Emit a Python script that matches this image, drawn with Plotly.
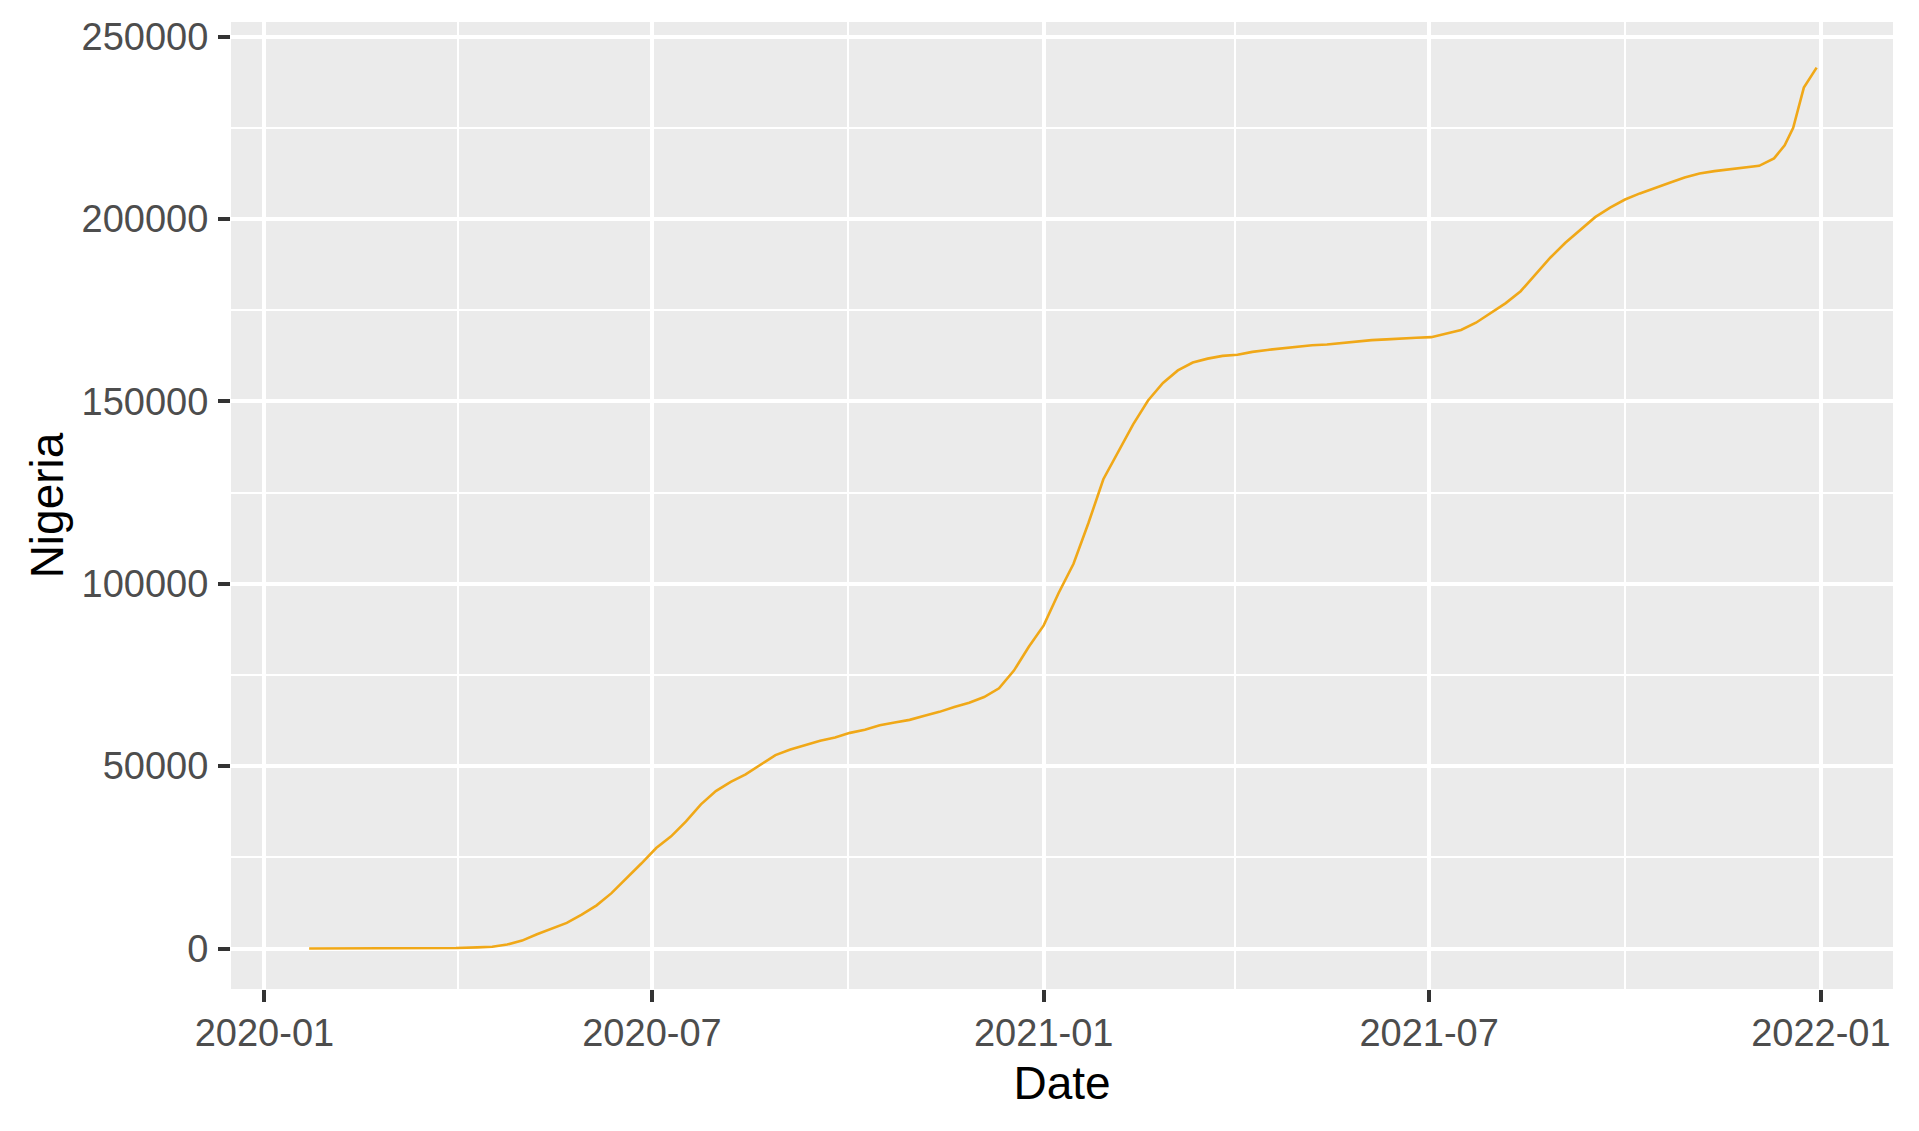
import plotly.graph_objects as go

dates = [
    "2020-01-22", "2020-02-27", "2020-02-28", "2020-03-15", "2020-03-31",
    "2020-04-10", "2020-04-17", "2020-04-24", "2020-05-01", "2020-05-08",
    "2020-05-15", "2020-05-22", "2020-05-29", "2020-06-05", "2020-06-12",
    "2020-06-19", "2020-06-26", "2020-07-03", "2020-07-10", "2020-07-17",
    "2020-07-24", "2020-07-31", "2020-08-07", "2020-08-14", "2020-08-21",
    "2020-08-28", "2020-09-04", "2020-09-11", "2020-09-18", "2020-09-25",
    "2020-10-02", "2020-10-09", "2020-10-16", "2020-10-23", "2020-10-30",
    "2020-11-06", "2020-11-13", "2020-11-20", "2020-11-27", "2020-12-04",
    "2020-12-11", "2020-12-18", "2020-12-25", "2021-01-01", "2021-01-08",
    "2021-01-15", "2021-01-22", "2021-01-29", "2021-02-05", "2021-02-12",
    "2021-02-19", "2021-02-26", "2021-03-05", "2021-03-12", "2021-03-19",
    "2021-03-26", "2021-04-02", "2021-04-09", "2021-04-16", "2021-04-23",
    "2021-04-30", "2021-05-07", "2021-05-14", "2021-05-21", "2021-05-28",
    "2021-06-04", "2021-06-11", "2021-06-18", "2021-06-25", "2021-07-02",
    "2021-07-09", "2021-07-16", "2021-07-23", "2021-07-30", "2021-08-06",
    "2021-08-13", "2021-08-20", "2021-08-27", "2021-09-03", "2021-09-10",
    "2021-09-17", "2021-09-24", "2021-10-01", "2021-10-08", "2021-10-15",
    "2021-10-22", "2021-10-29", "2021-11-05", "2021-11-12", "2021-11-19",
    "2021-11-26", "2021-12-03", "2021-12-10", "2021-12-15", "2021-12-19",
    "2021-12-22", "2021-12-24", "2021-12-30",
]

nigeria_cases = [
    0, 0, 1, 2, 139,
    305, 493, 1095, 2170, 3912,
    5450, 7016, 9302, 11844, 15181,
    19147, 23298, 27564, 30748, 34854,
    39539, 43151, 45687, 47743, 50488,
    53021, 54588, 55829, 56956, 57849,
    59127, 59992, 61194, 61992, 62691,
    63790, 64884, 66228, 67412, 68937,
    71344, 76207, 82747, 88587, 97478,
    105478, 116655, 128674, 136030, 143706,
    150246, 155076, 158506, 160657, 161737,
    162489, 162805, 163581, 164118, 164588,
    165110, 165419, 165616, 166061, 166448,
    166817, 167007, 167281, 167467, 167618,
    168556, 169588, 171576, 174315, 176957,
    180223, 184773, 189457, 193493, 197046,
    200519, 203124, 205355, 207033, 208404,
    209933, 211389, 212503, 213147, 213665,
    214113, 214596, 216633, 220219, 225000,
    231413, 236034, 241513,
]

x_tick_vals = ["2020-01-01", "2020-07-01", "2021-01-01", "2021-07-01", "2022-01-01"]
x_tick_text = ["2020-01", "2020-07", "2021-01", "2021-07", "2022-01"]
y_tick_vals = [0, 50000, 100000, 150000, 200000, 250000]
y_tick_text = ["0", "50000", "100000", "150000", "200000", "250000"]

FONT = "Liberation Sans, Arial, sans-serif"

fig = go.Figure()
fig.add_trace(go.Scatter(
    x=dates, y=nigeria_cases, mode="lines",
    line=dict(color="#F0A818", width=2.6),
    showlegend=False,
))

fig.update_layout(
    width=1919, height=1131,
    margin=dict(l=223, r=34, t=14, b=150, autoexpand=False),
    paper_bgcolor="white",
    plot_bgcolor="#EBEBEB",
    font=dict(family=FONT, size=38, color="#4D4D4D"),
)

fig.update_xaxes(
    type="date",
    range=["2019-12-16 07:00", "2022-02-03 21:00"],
    tickmode="array", tickvals=x_tick_vals, ticktext=x_tick_text,
    ticks="outside", ticklen=12, tickwidth=3.5, tickcolor="#333333",
    tickfont=dict(family=FONT, size=38, color="#4D4D4D"),
    ticklabelstandoff=-2,
    showgrid=True, gridcolor="white", gridwidth=4,
    minor=dict(dtick="M3", tick0="2020-01-01", showgrid=True,
               gridcolor="white", gridwidth=2.2, ticks=""),
    showline=False, zeroline=False,
    title=dict(text="Date", font=dict(family=FONT, size=46, color="black"), standoff=14),
    automargin=False,
)

fig.update_yaxes(
    range=[-11100, 254030],
    tickmode="array", tickvals=y_tick_vals, ticktext=y_tick_text,
    ticks="outside", ticklen=12, tickwidth=3.5, tickcolor="#333333",
    tickfont=dict(family=FONT, size=38, color="#4D4D4D"),
    ticklabelstandoff=2,
    showgrid=True, gridcolor="white", gridwidth=4,
    minor=dict(dtick=25000, tick0=0, showgrid=True,
               gridcolor="white", gridwidth=2.2, ticks=""),
    showline=False, zeroline=False,
    title=dict(text="Nigeria", font=dict(family=FONT, size=46, color="black"), standoff=3),
    automargin=False,
)

fig.write_html("out.html")
